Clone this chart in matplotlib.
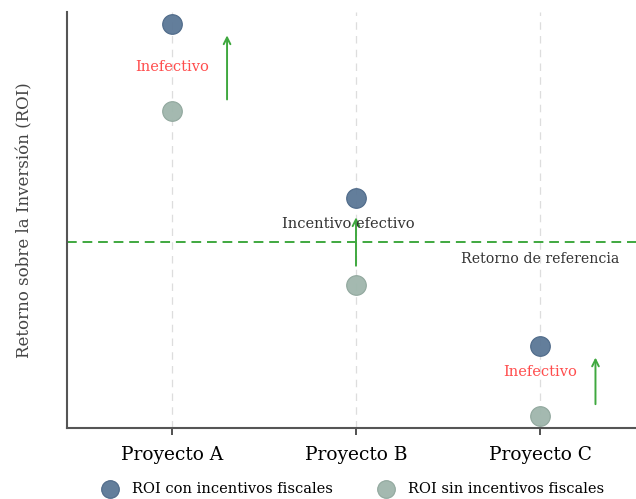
import numpy as np
import matplotlib.pyplot as plt

plt.rcParams['font.family'] = ['DejaVu Serif']

# project data (ROI, arbitrary scale)
proyectos = ['Proyecto A', 'Proyecto B', 'Proyecto C']
roi_con = [15.0, 9.0, 3.9]     # with tax incentives
roi_sin = [12.0, 6.0, 1.5]     # without tax incentives
retorno_ref = 7.5
etiquetas = ['Inefectivo', 'Incentivo efectivo', 'Inefectivo']

c_con = '#5b7796'
c_sin = '#9fb6ac'
verde = '#3fa83f'

x = np.arange(len(proyectos))

fig = plt.figure(figsize=(6.36, 4.99), dpi=100)
ax = fig.add_axes([0.105, 0.142, 0.895, 0.834])

# light vertical guides
for xi in x:
	ax.axvline(xi, color='#dddddd', linestyle=(0, (6, 5)), linewidth=0.9, zorder=0)

# reference return
ax.axhline(retorno_ref, color=verde, linestyle=(0, (5, 3)), linewidth=1.4, zorder=1)
ax.text(2, retorno_ref - 0.6, 'Retorno de referencia', ha='center', va='center',
	fontsize=10.2, color='#333333')

ax.scatter(x, roi_con, s=200, color=c_con, edgecolor='#4a6686', linewidth=0.8,
	alpha=0.95, zorder=3, label='ROI con incentivos fiscales')
ax.scatter(x, roi_sin, s=200, color=c_sin, edgecolor='#8ea59b', linewidth=0.8,
	alpha=0.95, zorder=3, label='ROI sin incentivos fiscales')

# arrows and labels for each project
for i in range(len(proyectos)):
	efectivo = roi_sin[i] < retorno_ref < roi_con[i]
	if efectivo:
		ax_x, gap = x[i], 0.57
		ax.text(x[i] - 0.04, roi_con[i] - 0.9, etiquetas[i], ha='center', va='center',
			fontsize=10.5, color='#333333', zorder=4)
	else:
		ax_x, gap = x[i] + 0.3, 0.3
	ax.annotate('', xy=(ax_x, roi_con[i] - gap), xytext=(ax_x, roi_sin[i] + gap),
		arrowprops=dict(arrowstyle='->', color=verde, lw=1.4, mutation_scale=12), zorder=2)

ax.text(0, (roi_con[0] + roi_sin[0]) / 2, etiquetas[0], ha='center', va='center',
	fontsize=10.5, color='#ff4d4d')
ax.text(2, roi_con[2] - 0.9, etiquetas[2], ha='center', va='center',
	fontsize=10.5, color='#ff4d4d')

ax.set_xlim(-0.57, 2.52)
ax.set_ylim(1.07, 15.41)
ax.set_xticks(x)
ax.set_xticklabels(proyectos, fontsize=13.4)
ax.set_yticks([])
ax.set_ylabel('Retorno sobre la Inversión (ROI)', fontsize=12, color='#444444', labelpad=24)

for s in ['top', 'right']:
	ax.spines[s].set_visible(False)
for s in ['left', 'bottom']:
	ax.spines[s].set_color('#555555')
	ax.spines[s].set_linewidth(1.5)
ax.tick_params(axis='x', length=5, width=1.2, color='#333333', pad=8)

fig.legend(*ax.get_legend_handles_labels(), loc='center', bbox_to_anchor=(0.55, 0.02),
	ncol=2, frameon=False, fontsize=10.5, columnspacing=2.7, handletextpad=0.5,
	markerscale=0.9, borderpad=0.1)

fig.savefig('out.png', dpi=100)
